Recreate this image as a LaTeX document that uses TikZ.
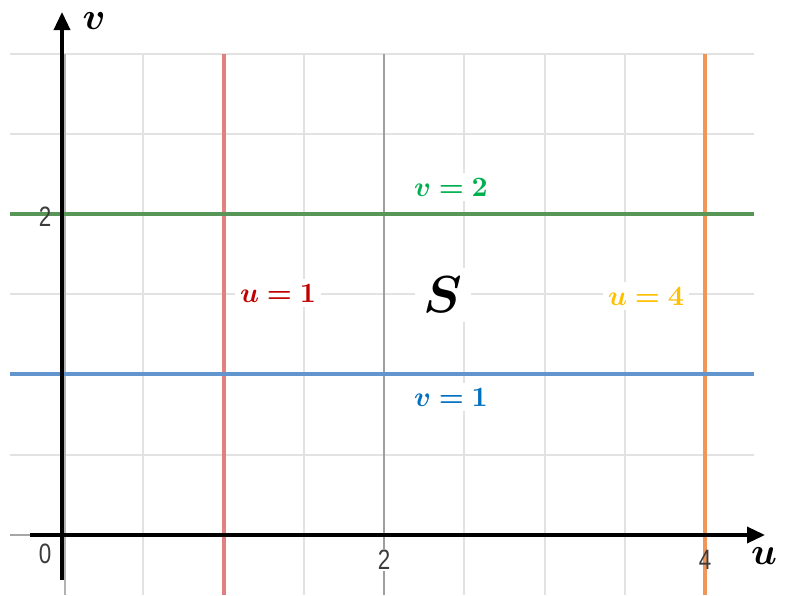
\documentclass[tikz,border=0pt]{standalone}
\usepackage{amsmath}
\usepackage{bm}
\usepackage{graphicx}
\usepackage{fontspec}
\usetikzlibrary{arrows.meta}
\newfontfamily\tickfont{Liberation Sans}
\definecolor{gridgray}{RGB}{226,226,226}
\definecolor{linered}{RGB}{226,128,128}
\definecolor{lineorange}{RGB}{240,150,88}
\definecolor{linegreen}{RGB}{88,150,88}
\definecolor{lineblue}{RGB}{98,148,205}
\definecolor{labred}{RGB}{192,0,0}
\definecolor{labgreen}{RGB}{0,176,80}
\definecolor{labblue}{RGB}{0,112,192}
\definecolor{labgold}{RGB}{255,192,0}
\definecolor{ticktext}{RGB}{60,60,60}
\newcommand{\labtxt}[1]{\scalebox{2.8}{$\bm{#1}$}}
\newcommand{\axtxt}[1]{\scalebox{3.8}{$\bm{#1}$}}
\begin{document}
\begin{tikzpicture}[x=1pt,y=-1pt,
  gridline/.style={draw=gridgray,line width=1.5pt},
  curve/.style={line width=4pt},
  axisline/.style={draw=black,line width=3.5pt},
  lab/.style={fill=white,inner sep=5pt},
  ticklab/.style={text=ticktext,inner sep=1pt,font=\fontsize{28}{32}\selectfont\tickfont,xscale=0.8},
  axlab/.style={inner sep=0pt}]
\useasboundingbox (0,0) rectangle (790,595);
% grid
\foreach \x in {143,304,464,545,625} \draw[gridline] (\x,54) -- (\x,595);
\foreach \y in {54,134,294,455} \draw[gridline] (10,\y) -- (754,\y);
\draw[draw=gray!75,line width=1.5pt] (384,54) -- (384,595);
\draw[draw=gray!60,line width=1.5pt] (65,54) -- (65,595);
% level lines
\draw[curve,draw=linered] (224,54) -- (224,595);
\draw[curve,draw=lineorange] (705,54) -- (705,595);
\draw[curve,draw=linegreen] (10,214) -- (754,214);
\draw[curve,draw=lineblue] (10,374) -- (754,374);
% axes
\coordinate (ustart) at (30,535);
\coordinate (uend) at (765,535);
\coordinate (vstart) at (62,580);
\coordinate (vend) at (62,12);
\draw[draw=gray!70,line width=1.5pt] (10,535) -- (ustart);
\draw[axisline,-{Triangle[length=18pt,width=16pt]}] (ustart) -- (uend);
\draw[axisline,-{Triangle[length=18pt,width=16pt]}] (vstart) -- (vend);
% tick labels
\node[ticklab] (t0) at (45,554) {0};
\node[ticklab,fill=white] (t2) at (384,560) {2};
\node[ticklab] (t4) at (705,560) {4};
\node[ticklab] (tv2) at (45,217) {2};
% axis labels
\node[axlab] (vlab) at (94,21) {\axtxt{v}};
\node[axlab] (ulab) at (764,556) {\axtxt{u}};
% region labels
\node[lab,text=labgreen] (v2) at (451,187) {\labtxt{v=2}};
\node[lab,text=labblue] (v1) at (451,397) {\labtxt{v=1}};
\node[lab,text=labred] (u1) at (278,293) {\labtxt{u=1}};
\node[lab,text=labgold] (u4) at (646,296) {\labtxt{u=4}};
\node[lab,inner sep=9pt] (S) at (443,295) {\scalebox{5.2}{$\bm{S}$}};
\end{tikzpicture}
\end{document}
